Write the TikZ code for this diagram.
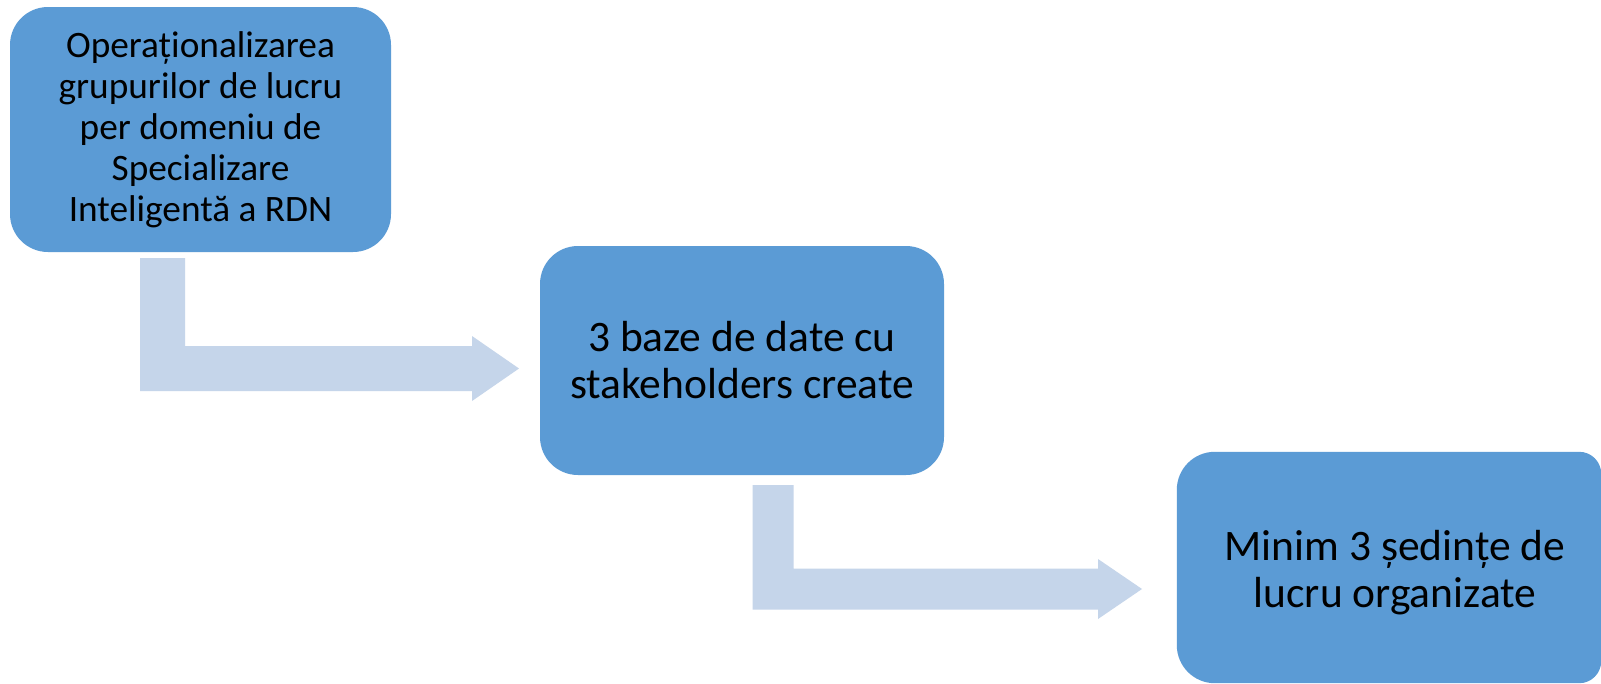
\documentclass[tikz,border=0pt]{standalone}
\usepackage{fontspec}
\setmainfont{Carlito}
\usetikzlibrary{calc}
\definecolor{boxblue}{RGB}{91,155,213}
\definecolor{arrowblue}{RGB}{197,213,234}
\tikzset{
  stagebox/.style={fill=boxblue, draw=none, rounded corners=38pt, inner sep=0pt, align=center, text=black},
  smalltxt/.style={font=\fontsize{37.3}{41}\selectfont},
  bigtxt/.style={font=\fontsize{43.5}{47}\selectfont},
  arrowfill/.style={fill=arrowblue, draw=none}
}
\newcommand\bentarrowshape[5]{%
  \fill[arrowfill] let \p1=(#1), \p2=(#2) in
    (\x1-#3,\y1) -- (\x1+#3,\y1) -- (\x1+#3,\y2+#3) -- (\x2-#5,\y2+#3)
    -- (\x2-#5,\y2+#4) -- (\x2,\y2) -- (\x2-#5,\y2-#4) -- (\x2-#5,\y2-#3)
    -- (\x1-#3,\y2-#3) -- cycle;}
\begin{document}
\begin{tikzpicture}[x=1pt,y=-1pt]
\useasboundingbox (0,0) rectangle (1601,683);
\fill[white] (0,0) rectangle (1601,683);

% boxes
\node[stagebox, smalltxt, minimum width=381pt, minimum height=245pt] (b1) at (200.5,129.5)
  {Operaționalizarea\\grupurilor de lucru\\per domeniu de\\Specializare\\Inteligentă a RDN};
\node[stagebox, bigtxt, minimum width=404pt, minimum height=229pt] (b2) at (742,360.5)
  {3 baze de date cu\\stakeholders create};
\node[minimum width=424pt, minimum height=231pt, inner sep=0pt] (b3) at (1389,567.5) {};
\fill[boxblue] (b3.west) [rounded corners=38pt] |- (b3.north) [rounded corners=22pt] -| (b3.east)
  |- (b3.south) [rounded corners=38pt] -| (b3.west) -- cycle;
\node[bigtxt, align=center, inner sep=0pt] (t3) at ($(b3.center)+(6,5)$)
  {Minim 3 ședințe de\\lucru organizate};

% connectors
\coordinate (a1s) at (162.5,258);
\coordinate (a1t) at (519,368.5);
\coordinate (a2s) at (773,485);
\coordinate (a2t) at (1142,589);
\bentarrowshape{a1s}{a1t}{22.5pt}{32.5pt}{47pt}
\bentarrowshape{a2s}{a2t}{20.5pt}{30pt}{44pt}
\end{tikzpicture}
\end{document}
